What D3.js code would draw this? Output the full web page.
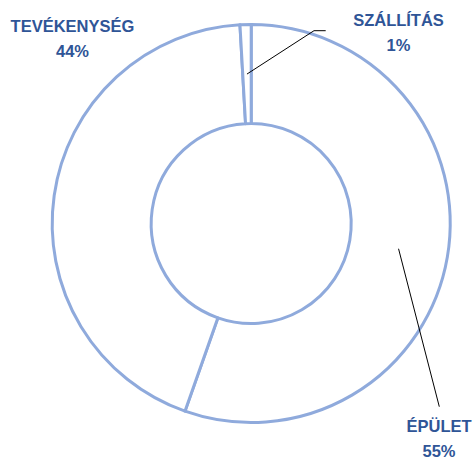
<!DOCTYPE html>
<html>
<head>
<meta charset="utf-8">
<script src="https://cdn.jsdelivr.net/npm/d3@7"></script>
<style>
  body { margin: 0; background: #fff; }
  svg { display: block; }
</style>
</head>
<body>
<div id="chart"></div>
<script>
// slice data (percent), clockwise from 12 o'clock
var categories = ["ÉPÜLET", "TEVÉKENYSÉG", "SZÁLLÍTÁS"]
var values = [55.4, 43.7, 0.9]

var width = 476, height = 461
var cx = 251.2, cy = 223.5
var rOuter = 199, rInner = 100

// label placement (text centre x, first baseline y) and leader elbow
var labelPos = {
  "ÉPÜLET":      {x: 439, y: 431.5, leader: [[439.3, 406.7]]},
  "TEVÉKENYSÉG": {x: 72.5, y: 32, leader: null},
  "SZÁLLÍTÁS":   {x: 398.5, y: 26, leader: [[314, 30.7], [325.7, 30.7]]}
}

var table = categories.map(function(c, i) { return {name: c, value: values[i]} })
var total = d3.sum(values)

var svg = d3.select("#chart")
  .append("svg")
  .attr("width", width)
  .attr("height", height)

var g = svg.append("g")
  .attr("transform", "translate(" + cx + "," + cy + ")")

var pie = d3.pie().sort(null).value(function(d) { return d.value })
var arc = d3.arc().innerRadius(rInner).outerRadius(rOuter)

var arcs = pie(table)

g.selectAll("path")
  .data(arcs)
  .enter()
  .append("path")
  .attr("d", arc)
  .attr("fill", "#ffffff")
  .attr("stroke", "#8faadc")
  .attr("stroke-width", 3)
  .attr("stroke-linejoin", "round")

// leader lines from slice centroid
arcs.forEach(function(a) {
  var lp = labelPos[a.data.name]
  if (!lp.leader) return
  var c = arc.centroid(a)
  var pts = [[c[0] + cx, c[1] + cy]].concat(lp.leader)
  svg.append("path")
    .attr("d", d3.line()(pts))
    .attr("fill", "none")
    .attr("stroke", "#000000")
    .attr("stroke-width", 1)
})

// labels
var labels = svg.append("g")
  .attr("font-family", "'Liberation Sans', Arial, sans-serif")
  .attr("font-weight", "bold")
  .attr("font-size", "16.5px")
  .attr("fill", "#2f5597")
  .attr("text-anchor", "middle")

arcs.forEach(function(a) {
  var lp = labelPos[a.data.name]
  var t = labels.append("text").attr("x", lp.x).attr("y", lp.y)
  t.append("tspan").attr("x", lp.x).text(a.data.name)
  t.append("tspan").attr("x", lp.x).attr("dy", 25)
    .text(Math.round(a.data.value / total * 100) + "%")
})
</script>
</body>
</html>
